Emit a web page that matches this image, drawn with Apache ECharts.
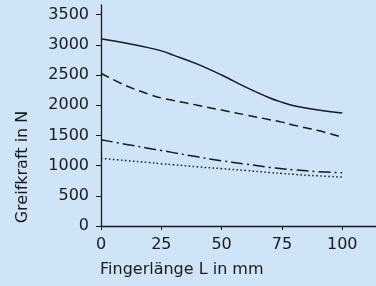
<!DOCTYPE html>
<html>
<head>
<meta charset="utf-8">
<script src="https://cdn.jsdelivr.net/npm/echarts@6/dist/echarts.min.js"></script>
<style>
html, body { margin: 0; padding: 0; background: #cfe4f7; }
#chart { width: 376px; height: 286px; }
</style>
</head>
<body>
<div id="chart"></div>
<script>
// Fingerlänge L in mm
const lengths = [0, 10, 20, 25, 30, 40, 50, 60, 70, 75, 80, 90, 100];
// Greifkraft in N for the four curves
const solid = [3100, 3030, 2950, 2900, 2830, 2680, 2500, 2300, 2120, 2050, 1990, 1920, 1870];
const dashed = [2530, 2330, 2180, 2120, 2080, 2000, 1920, 1840, 1760, 1720, 1670, 1580, 1470];
const dashDot = [1430, 1355, 1285, 1250, 1215, 1145, 1080, 1025, 970, 950, 930, 900, 880];
const dotted = [1120, 1085, 1050, 1030, 1015, 980, 950, 920, 885, 870, 855, 830, 810];
const xTicks = [0, 25, 50, 75, 100];
const yTicks = [0, 500, 1000, 1500, 2000, 2500, 3000, 3500];

const font = 'DejaVu Sans';
const ink = '#1a1a1a';

function pairs(values) {
    return lengths.map((l, i) => [l, values[i]]);
}

function line(values, type) {
    return {
        type: 'line',
        data: pairs(values),
        smooth: 0.4,
        symbol: 'none',
        lineStyle: { color: ink, width: 1.5, type: type }
    };
}

echarts.init(document.getElementById('chart'))
    .setOption({
        backgroundColor: '#cfe4f7',
        animation: false,
        textStyle: { fontFamily: font },
        grid: { left: 101, right: 0, top: 5, bottom: 60 },
        xAxis: {
            type: 'value',
            min: 0,
            max: 114,
            interval: 25,
            splitLine: { show: false },
            axisLine: { lineStyle: { color: ink, width: 1.3 } },
            axisTick: { customValues: xTicks, length: 4, lineStyle: { color: ink } },
            axisLabel: { customValues: xTicks, color: ink, fontSize: 16, margin: 11, formatter: v => String(v) }
        },
        yAxis: {
            type: 'value',
            min: 0,
            max: 3660,
            interval: 500,
            splitLine: { show: false },
            axisLine: { show: true, lineStyle: { color: ink, width: 1.3 } },
            axisTick: { show: true, customValues: yTicks, length: 5, lineStyle: { color: ink } },
            axisLabel: { customValues: yTicks, color: ink, fontSize: 16, margin: 12, formatter: v => String(v) }
        },
        graphic: [
            {
                type: 'text',
                left: 100,
                top: 262,
                style: { text: 'Fingerlänge L in mm', fill: ink, font: '16px "DejaVu Sans"' }
            },
            {
                type: 'text',
                x: 23,
                y: 167,
                rotation: Math.PI / 2,
                style: {
                    text: 'Greifkraft in N', fill: ink, font: '16px "DejaVu Sans"',
                    align: 'center', verticalAlign: 'middle'
                }
            }
        ],
        series: [
            line(solid, 'solid'),
            line(dashed, [9, 5]),
            line(dashDot, [12, 4, 2, 4]),
            line(dotted, [1.5, 2.5])
        ]
    });
</script>
</body>
</html>
